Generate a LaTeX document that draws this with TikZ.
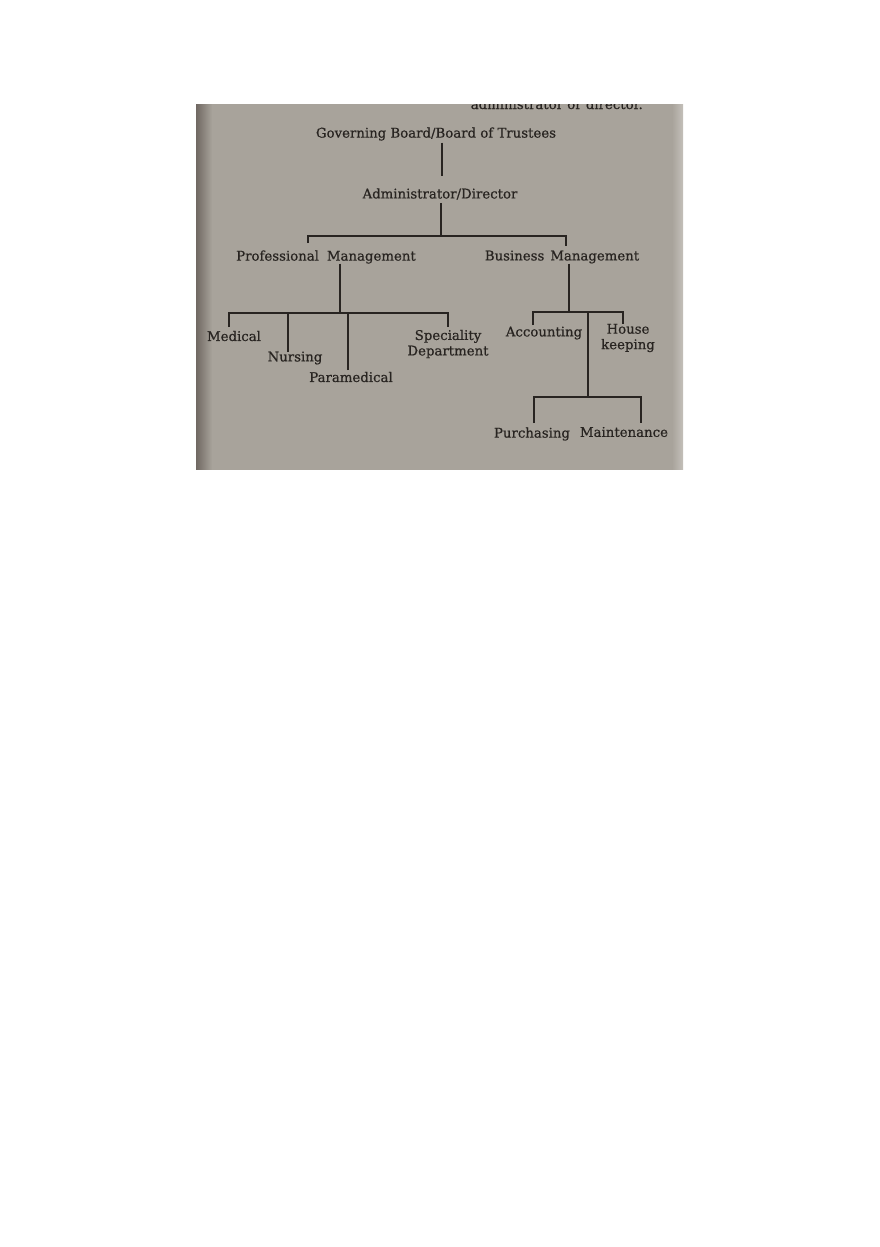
\documentclass[tikz,border=0pt]{standalone}
\usepackage{fontspec}
\setmainfont{DejaVu Serif}[FakeBold=0.6]
\definecolor{photo}{RGB}{168,163,155}
\definecolor{photodark}{RGB}{112,104,98}
\definecolor{photolight}{RGB}{196,192,186}
\definecolor{ink}{RGB}{40,36,33}
\tikzset{
  lbl/.style={text=ink, font=\fontsize{13.3}{15.5}\selectfont, inner sep=0pt, align=center},
  link/.style={draw=ink, line width=1.3pt},
}
\begin{document}
\begin{tikzpicture}[x=1pt, y=-1pt]
    \useasboundingbox[fill=white] (0,0) rectangle (880,1247);
    % the photographed page
    \fill[photo] (196,104) rectangle (683,469.5);
    \shade[left color=photodark, right color=photo] (196,104) rectangle (212,469.5);
    \shade[left color=photo, right color=photolight] (672,104) rectangle (683,469.5);
    \begin{scope}
        \clip (196,104) rectangle (683,469);
        \node[lbl, anchor=base east] (caption) at (643,109) {administrator or director.};
    \end{scope}
    % chart
    \node[lbl] (gov) at (436,134) {Governing Board/Board of Trustees};
    \node[lbl] (admin) at (440,194) {Administrator/Director};
    \node[lbl] (prof) at (326,257) {Professional\hspace{8pt}Management};
    \node[lbl] (bus) at (562,257) {Business\hspace{6pt}Management};
    \node[lbl] (med) at (234,336) {Medical};
    \node[lbl] (nurs) at (295,358) {Nursing};
    \node[lbl] (para) at (351,377) {Paramedical};
    \node[lbl] (spec) at (448,344) {Speciality\\Department};
    \node[lbl] (acc) at (544,333) {Accounting};
    \node[lbl] (house) at (628,338) {House\\keeping};
    \node[lbl] (purch) at (532,434) {Purchasing};
    \node[lbl] (maint) at (624,432) {Maintenance};
    % junctions
    \coordinate (govtip) at (442,176);
    \coordinate (topbar) at (441,236);
    \coordinate (proftip) at (308,243);
    \coordinate (bustip) at (566,246);
    \coordinate (profbar) at (340,313);
    \coordinate (medtip) at (229,327);
    \coordinate (nurstip) at (288,352);
    \coordinate (paratip) at (348,370);
    \coordinate (spectip) at (448,327);
    \coordinate (busbar) at (569,312);
    \coordinate (acctip) at (533,325);
    \coordinate (housetip) at (623,324);
    \coordinate (lowbar) at (588,397);
    \coordinate (purchtip) at (534,423);
    \coordinate (mainttip) at (641,423);
    % connectors
    \draw[link, shorten <=2pt] (gov.south -| govtip) -- (govtip);
    \draw[link, shorten <=3pt] (admin.south -| topbar) -- (topbar);
    \draw[link] (proftip) |- (topbar) -| (bustip);
    \draw[link] (prof.south -| profbar) -- (profbar);
    \draw[link] (medtip) |- (profbar) -| (spectip);
    \draw[link] (nurstip) -- (nurstip |- profbar);
    \draw[link] (paratip) -- (paratip |- profbar);
    \draw[link] (bus.south -| busbar) -- (busbar);
    \draw[link] (acctip) |- (busbar) -| (housetip);
    \draw[link] (lowbar |- busbar) -- (lowbar);
    \draw[link] (purchtip) |- (lowbar) -| (mainttip);
\end{tikzpicture}
\end{document}
